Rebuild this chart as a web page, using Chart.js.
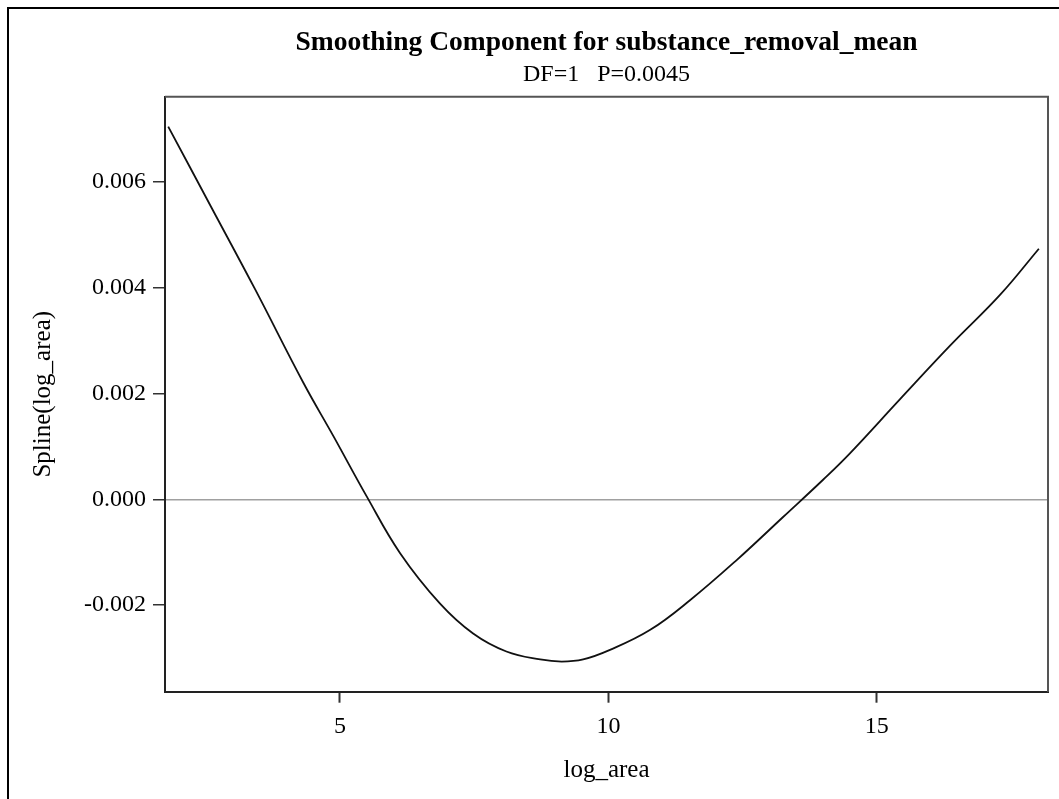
<!DOCTYPE html>
<html>
<head>
<meta charset="utf-8">
<title>Smoothing Component for substance_removal_mean</title>
<script src="https://cdn.jsdelivr.net/npm/chart.js@4.4.1/dist/chart.umd.min.js"></script>
<style>
    html, body {
        margin: 0;
        padding: 0;
        background: #fff;
        overflow: hidden;
    }
    #frame {
        position: absolute;
        left: 7px;
        top: 7px;
        width: 1200px;
        height: 900px;
        border-left: 2px solid #000;
        border-top: 2px solid #000;
    }
    #chart {
        position: absolute;
        left: 0;
        top: 0;
    }
</style>
</head>
<body>
<div id="frame"></div>
<canvas id="chart" width="1059" height="799"></canvas>
<script>
// Fitted spline for log_area
const logArea = [1.80, 2.60, 3.42, 4.32, 4.88, 5.50, 6.12, 6.86, 7.48, 8.10, 8.73, 9.13, 9.53,
    10.03, 10.78, 11.52, 12.39, 13.26, 14.00, 14.50, 15.43, 16.37, 17.30, 18.02];
const splineValues = [0.00705, 0.00553, 0.00397, 0.00220, 0.00119, 0.00005, -0.00102, -0.00197,
    -0.00254, -0.00288, -0.00303, -0.00307, -0.00303, -0.00285, -0.00247, -0.00191, -0.00115,
    -0.00033, 0.00037, 0.00087, 0.00189, 0.00291, 0.00387, 0.00474];

const xTicks = [5, 10, 15];
const yTicks = [-0.002, 0.000, 0.002, 0.004, 0.006];

const chartTitle = 'Smoothing Component for substance_removal_mean';
const chartSubtitle = 'DF=1   P=0.0045';
const xLabel = 'log_area';
const yLabel = 'Spline(log_area)';

const serif = "'Liberation Serif', 'Times New Roman', Times, serif";

// Top and right edges of the plot box
const plotBox = {
    id: 'plotBox',
    afterDraw(chart) {
        const {ctx, chartArea} = chart;
        ctx.save();
        ctx.strokeStyle = '#555';
        ctx.lineWidth = 2;
        ctx.beginPath();
        ctx.moveTo(chartArea.left, chartArea.top);
        ctx.lineTo(chartArea.right, chartArea.top);
        ctx.lineTo(chartArea.right, chartArea.bottom);
        ctx.stroke();
        ctx.restore();
    }
};

const points = logArea.map((x, i) => ({x: x, y: splineValues[i]}));

new Chart(document.getElementById('chart'), {
    type: 'line',
    data: {
        datasets: [{
            data: points,
            borderColor: '#111',
            borderWidth: 1.8,
            pointRadius: 0,
            fill: false,
            tension: 0.4,
        }],
    },
    options: {
        responsive: false,
        animation: false,
        devicePixelRatio: 1,
        layout: {
            padding: {left: 8, right: 11, top: 0, bottom: 0},
        },
        plugins: {
            legend: {display: false},
            tooltip: {enabled: false},
            title: {
                display: true,
                text: chartTitle,
                fullSize: false,
                color: '#000',
                font: {family: serif, size: 27.5, weight: 'bold', lineHeight: 1.2},
                padding: {top: 26, bottom: 0},
            },
            subtitle: {
                display: true,
                text: chartSubtitle,
                fullSize: false,
                color: '#000',
                font: {family: serif, size: 24, weight: 'normal', lineHeight: 1.2},
                padding: {top: 1, bottom: 8},
            },
        },
        scales: {
            x: {
                type: 'linear',
                min: 1.74,
                max: 18.19,
                afterFit: (scale) => { scale.height = 107.3; },
                afterBuildTicks: (scale) => { scale.ticks = xTicks.map(v => ({value: v})); },
                border: {display: true, color: '#222', width: 2},
                grid: {
                    drawOnChartArea: false,
                    drawTicks: true,
                    tickLength: 11,
                    tickColor: '#333',
                    tickWidth: 2,
                },
                ticks: {
                    color: '#000',
                    padding: 10,
                    maxRotation: 0,
                    font: {family: serif, size: 24},
                    callback: (v) => String(v),
                },
                title: {
                    display: true,
                    text: xLabel,
                    color: '#000',
                    font: {family: serif, size: 25, lineHeight: 1.2},
                    padding: {top: 0, bottom: 14},
                },
            },
            y: {
                type: 'linear',
                min: -0.00364,
                max: 0.007614,
                afterFit: (scale) => { scale.width = 157; },
                afterBuildTicks: (scale) => { scale.ticks = yTicks.map(v => ({value: v})); },
                border: {display: true, color: '#222', width: 2},
                grid: {
                    drawOnChartArea: true,
                    drawTicks: true,
                    tickLength: 12,
                    tickColor: '#333',
                    tickWidth: 1.5,
                    lineWidth: 1.5,
                    color: (ctx) => (ctx.tick && ctx.tick.value === 0 ? '#a0a0a0' : 'rgba(0,0,0,0)'),
                },
                ticks: {
                    color: '#000',
                    padding: 7,
                    font: {family: serif, size: 24},
                    callback: (v) => v.toFixed(3),
                },
                title: {
                    display: true,
                    text: yLabel,
                    color: '#000',
                    font: {family: serif, size: 25, lineHeight: 1.2},
                    padding: {top: 20, bottom: 0},
                },
            },
        },
    },
    plugins: [plotBox],
});
</script>
</body>
</html>
